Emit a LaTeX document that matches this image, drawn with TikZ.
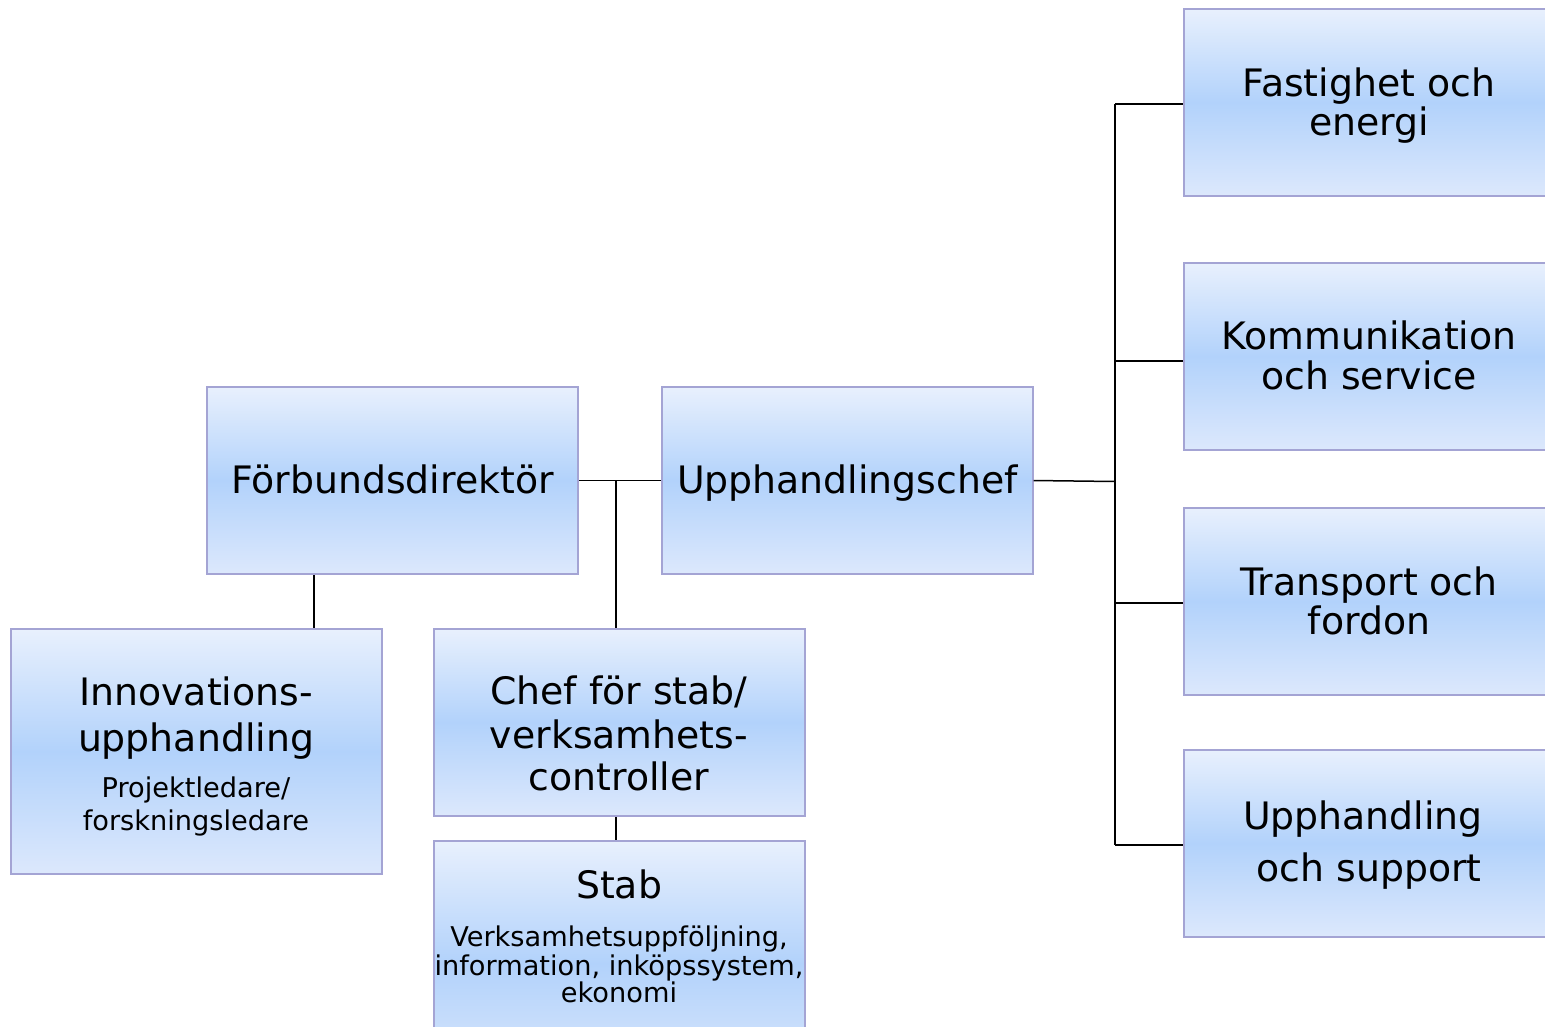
\documentclass[tikz,border=0pt]{standalone}
\usepackage{fontspec}
\setmainfont{DejaVu Sans}
\definecolor{boxline}{RGB}{164,164,212}
\definecolor{gtop}{RGB}{232,240,253}
\definecolor{gmid}{RGB}{178,210,251}
\definecolor{gbot}{RGB}{220,232,252}
\tikzset{
  box/.style={draw=boxline, line width=2pt, rectangle, inner sep=0pt,
    top color=gtop, bottom color=gbot, middle color=gmid},
  conn/.style={draw=black, line width=1.5pt},
  big/.style={anchor=base, inner sep=0pt, font=\fontsize{37.8}{40}\selectfont},
  small/.style={anchor=base, inner sep=0pt, font=\fontsize{27.2}{30}\selectfont}
}
\begin{document}
\begin{tikzpicture}[x=1pt,y=-1pt]
\useasboundingbox (0,0) rectangle (1545,1026);
\clip (0,0) rectangle (1545,1026);
\fill[white] (0,0) rectangle (1545,1026);

% boxes
\node[box, minimum width=371pt, minimum height=187pt] (fd) at (392.5,480.5) {};
\node[box, minimum width=371pt, minimum height=187pt] (uc) at (847,480.5) {};
\node[box, minimum width=371pt, minimum height=245pt] (inn) at (196,751.5) {};
\node[box, minimum width=371pt, minimum height=187pt] (chef) at (619,722.5) {};
\node[box, minimum width=371pt, minimum height=245pt] (stab) at (619,963.5) {};
\node[box, minimum width=371pt, minimum height=187pt] (fe) at (1369,102.5) {};
\node[box, minimum width=371pt, minimum height=187pt] (ks) at (1369,356.5) {};
\node[box, minimum width=371pt, minimum height=187pt] (tf) at (1369,601.5) {};
\node[box, minimum width=371pt, minimum height=187pt] (us) at (1369,843.5) {};

% texts
\node[big] (tfd) at (392.5,493) {Förbundsdirektör};
\node[big] (tuc) at (847.5,493) {Upphandlingschef};
\node[big] (tfe1) at (1369,96) {Fastighet och};
\node[big] (tfe2) at (1369,135) {energi};
\node[big] (tks1) at (1369,349) {Kommunikation};
\node[big] (tks2) at (1369,389) {och service};
\node[big] (ttf1) at (1369,595) {Transport och};
\node[big] (ttf2) at (1369,634) {fordon};
\node[big] (tus1) at (1363,829) {Upphandling};
\node[big] (tus2) at (1369,881) {och support};
\node[big] (tin1) at (196,705) {Innovations-};
\node[big] (tin2) at (196,751) {upphandling};
\node[small] (tin3) at (196,797) {Projektledare/};
\node[small] (tin4) at (196,830) {forskningsledare};
\node[big] (tch1) at (619,704) {Chef för stab/};
\node[big] (tch2) at (619,748) {verksamhets-};
\node[big] (tch3) at (619,790) {controller};
\node[big] (tst1) at (619,898) {Stab};
\node[small] (tst2) at (619,946) {Verksamhetsuppföljning,};
\node[small] (tst3) at (619,975) {information, inköpssystem,};
\node[small] (tst4) at (619,1002) {ekonomi};

% connectors
\coordinate (j1) at (616,480.5);
\coordinate (bus) at (1115,481.5);
\draw[conn] (fd.east) -- (uc.west);
\draw[conn] (j1) -- (j1 |- chef.north);
\draw[conn] ([xshift=-78.5pt]fd.south) -- ([xshift=-78.5pt]fd.south |- inn.north);
\draw[conn] ([xshift=-3pt]chef.south) -- ([xshift=-3pt]chef.south |- stab.north);
\draw[conn] (uc.east) -- (bus);
\draw[conn] ([yshift=-1.5pt]fe.west -| bus) -- ([yshift=-1.5pt]us.west -| bus);
\draw[conn] ([yshift=-1.5pt]fe.west) -- ([yshift=-1.5pt]fe.west -| bus);
\draw[conn] ([yshift=-4.5pt]ks.west) -- ([yshift=-4.5pt]ks.west -| bus);
\draw[conn] ([yshift=-1.5pt]tf.west) -- ([yshift=-1.5pt]tf.west -| bus);
\draw[conn] ([yshift=-1.5pt]us.west) -- ([yshift=-1.5pt]us.west -| bus);
\end{tikzpicture}
\end{document}
